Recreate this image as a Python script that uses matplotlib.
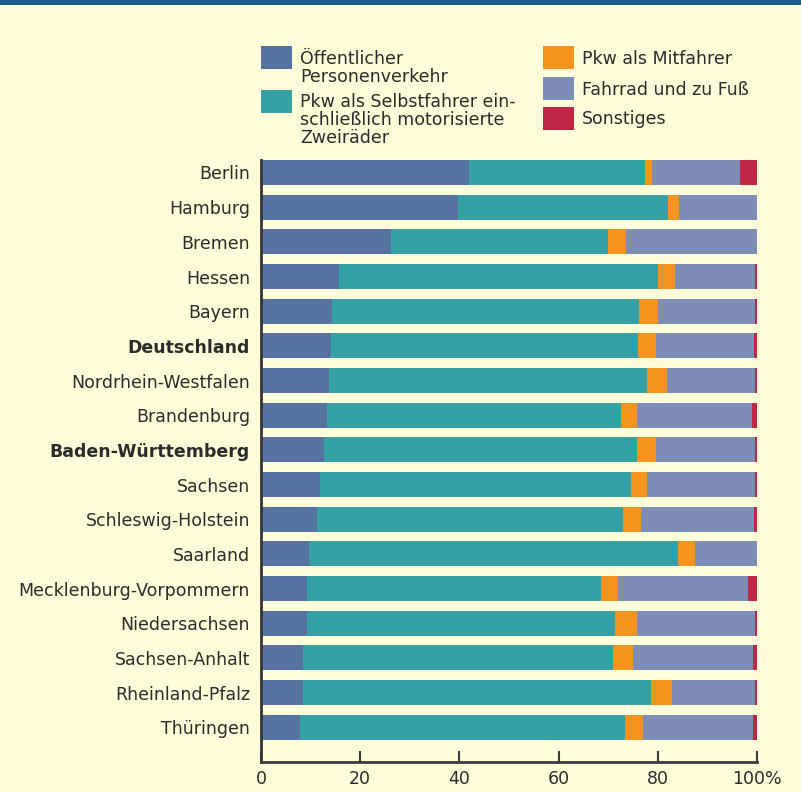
import matplotlib.pyplot as plt
from matplotlib.patches import Rectangle
import numpy as np

states = ['Berlin', 'Hamburg', 'Bremen', 'Hessen', 'Bayern', 'Deutschland',
          'Nordrhein-Westfalen', 'Brandenburg', 'Baden-Württemberg', 'Sachsen',
          'Schleswig-Holstein', 'Saarland', 'Mecklenburg-Vorpommern',
          'Niedersachsen', 'Sachsen-Anhalt', 'Rheinland-Pfalz', 'Thüringen']
bold_states = ['Deutschland', 'Baden-Württemberg']

oepnv = [41.9, 39.8, 26.3, 15.8, 14.4, 14.2, 13.8, 13.4, 12.8, 11.8, 11.2,
         9.6, 9.2, 9.2, 8.5, 8.5, 7.9]
selbstfahrer = [35.5, 42.2, 43.6, 64.2, 61.8, 61.8, 64.0, 59.1, 63.0, 62.8,
                61.7, 74.5, 59.3, 62.1, 62.4, 70.1, 65.5]
mitfahrer = [1.4, 2.3, 3.7, 3.4, 3.8, 3.6, 4.0, 3.3, 3.8, 3.2, 3.7, 3.4, 3.4,
             4.5, 4.1, 4.2, 3.6]
rad_fuss = [17.8, 15.7, 26.4, 16.2, 19.6, 19.8, 17.8, 23.2, 20.0, 21.8, 22.8,
            12.5, 26.3, 23.8, 24.2, 16.8, 22.2]
sonstiges = [3.4, 0.0, 0.0, 0.4, 0.4, 0.6, 0.4, 1.0, 0.4, 0.4, 0.6, 0.0, 1.8,
             0.4, 0.8, 0.4, 0.8]

series = [oepnv, selbstfahrer, mitfahrer, rad_fuss, sonstiges]
labels = ['Öffentlicher\nPersonenverkehr',
          'Pkw als Selbstfahrer ein-\nschließlich motorisierte\nZweiräder',
          'Pkw als Mitfahrer', 'Fahrrad und zu Fuß', 'Sonstiges']
colors = ['#5572a0', '#35a1a4', '#f6931e', '#7e8db5', '#c02645']

xticks = [0, 20, 40, 60, 80, 100]
xticklabels = ['0', '20', '40', '60', '80', '100%']

bg = '#fffcda'
ink = '#2b2b2b'
W, H = 801, 792

fig = plt.figure(figsize=(W / 100, H / 100), dpi=100, facecolor=bg)
ax = fig.add_axes([261 / W, 1 - 762 / H, 496 / W, (762 - 160) / H])
ax.set_facecolor(bg)

y = np.arange(len(states))
left = np.zeros(len(states))
for vals, col in zip(series, colors):
    ax.barh(y, vals, left=left, height=0.72, color=col, linewidth=0)
    left += np.array(vals)

ax.set_xlim(0, 100)
ax.set_ylim(len(states), -0.36)
ax.set_yticks(y)
ax.set_yticklabels(states, fontsize=12.5, color=ink)
for t in ax.get_yticklabels():
    if t.get_text() in bold_states:
        t.set_fontweight('bold')
ax.set_xticks(xticks)
ax.set_xticklabels(xticklabels, fontsize=12.5, color=ink)
ax.tick_params(axis='y', length=0, pad=8)
ax.tick_params(axis='x', direction='in', length=8, width=1.5, color='#3a3a3a',
               pad=6)
for s in ['top', 'right']:
    ax.spines[s].set_visible(False)
ax.spines['left'].set_linewidth(2)
ax.spines['left'].set_color('#333333')
ax.spines['bottom'].set_linewidth(2)
ax.spines['bottom'].set_color('#3a3a3a')

# top border line
fig.add_artist(Rectangle((0, 1 - 5 / H), 1, 5 / H, transform=fig.transFigure,
                         color='#1e5a8c', linewidth=0))

# legend, drawn by hand in two columns
legend_pos = [(261, 46, 64), (261, 90, 107), (543, 46, 64), (543, 77, 95),
              (543, 107, 124)]
for (lx, ty, base), lab, col in zip(legend_pos, labels, colors):
    fig.add_artist(Rectangle((lx / W, 1 - (ty + 23) / H), 31 / W, 23 / H,
                             transform=fig.transFigure, color=col,
                             linewidth=0))
    for i, line in enumerate(lab.split('\n')):
        fig.text((lx + 39) / W, 1 - (base + 18 * i) / H, line, fontsize=12.5,
                 color=ink, va='baseline', ha='left')

fig.savefig('out.png', dpi=100, facecolor=bg)
